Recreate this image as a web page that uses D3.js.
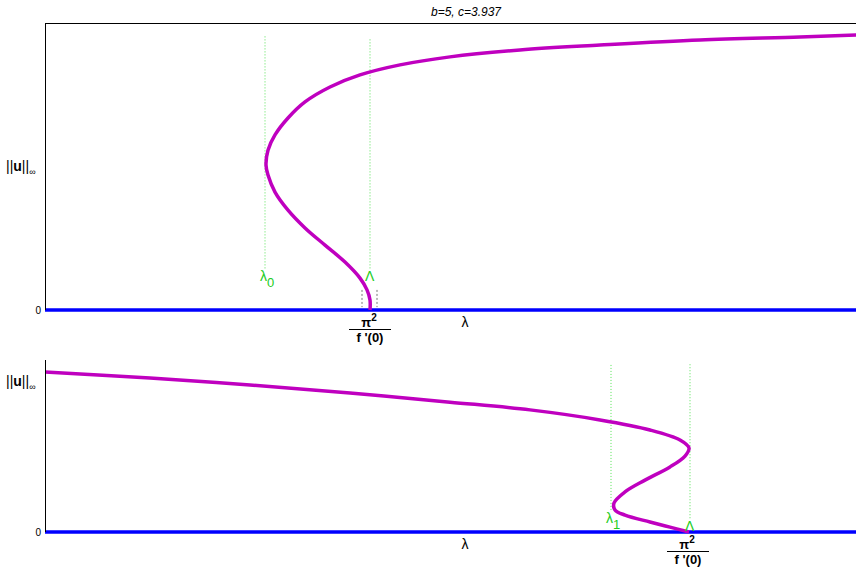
<!DOCTYPE html>
<html>
<head>
<meta charset="utf-8">
<script src="https://cdn.jsdelivr.net/npm/d3@7"></script>
<style>
body { margin: 0; background: #fff; }
text { font-family: "Liberation Sans", Arial, sans-serif; }
</style>
</head>
<body>
<svg id="chart" width="856" height="569"></svg>
<script>
// upper branch (lambda, ||u||)
var topLambda = [3.25, 3.25, 3.22, 3.15, 3.00, 2.80, 2.60, 2.43, 2.30, 2.23, 2.21, 2.23, 2.30, 2.43, 2.60, 2.85, 3.15, 3.55, 4.05, 4.75, 5.55, 6.55, 7.55, 8.11, 8.5];
var topNorm = [0, 0.35, 0.70, 1.11, 1.67, 2.26, 2.86, 3.48, 4.11, 4.70, 5.05, 5.57, 6.10, 6.69, 7.25, 7.77, 8.19, 8.54, 8.82, 9.06, 9.23, 9.41, 9.51, 9.58, 9.62];
// lower branch
var botLambda = [0, 1.05, 2.05, 3.05, 4.05, 4.85, 5.55, 6.05, 6.35, 6.44, 6.40, 6.25, 6.00, 5.80, 5.69, 5.70, 5.80, 6.05, 6.25, 6.44];
var botNorm = [5.58, 5.37, 5.13, 4.85, 4.53, 4.26, 3.91, 3.56, 3.21, 2.93, 2.65, 2.27, 1.81, 1.40, 1.01, 0.77, 0.59, 0.35, 0.17, 0];

// marker lines: lambda, top, bottom, label, subscript
var topMarks = [
  { x: 2.20, y0: 1.45, y1: 9.55, label: "λ", sub: "0" },
  { x: 3.25, y0: 1.45, y1: 9.45, label: "Λ", sub: "" }
];
var botMarks = [
  { x: 5.66, y0: 0.77, y1: 5.85, label: "λ", sub: "1" },
  { x: 6.45, y0: 0.48, y1: 5.85, label: "Λ", sub: "" }
];
var greyTicks = [3.17, 3.32];
var titleText = "b=5, c=3.937";

var svg = d3.select("#chart");
var xScale = d3.scaleLinear().domain([0, 8.4]).range([45, 885]);
var yTop = d3.scaleLinear().domain([0, 10]).range([310, 23]);
var yBot = d3.scaleLinear().domain([0, 6]).range([532, 360]);

svg.append("defs").append("clipPath").attr("id", "clipTop")
  .append("rect").attr("x", 45).attr("y", 23).attr("width", 840).attr("height", 292);
svg.select("defs").append("clipPath").attr("id", "clipBot")
  .append("rect").attr("x", 45).attr("y", 360).attr("width", 840).attr("height", 177);

function drawPanel(yScale, lam, nrm, marks, clipId, fracX) {
  var g = svg.append("g");
  var inner = g.append("g").attr("clip-path", "url(#" + clipId + ")");

  // green dotted marker lines
  inner.selectAll(".mark")
    .data(marks)
    .enter()
    .append("line")
    .attr("x1", function (d) { return xScale(d.x); })
    .attr("x2", function (d) { return xScale(d.x); })
    .attr("y1", function (d) { return yScale(d.y0); })
    .attr("y2", function (d) { return yScale(d.y1); })
    .attr("stroke", "#55e055")
    .attr("stroke-width", 1)
    .attr("stroke-dasharray", "1,2");

  // blue trivial branch
  inner.append("line")
    .attr("x1", xScale(0)).attr("x2", xScale(8.4))
    .attr("y1", yScale(0)).attr("y2", yScale(0))
    .attr("stroke", "#0000ff").attr("stroke-width", 3.5);

  var pts = lam.map(function (v, i) { return [v, nrm[i]]; });
  var line = d3.line()
    .x(function (d) { return xScale(d[0]); })
    .y(function (d) { return yScale(d[1]); })
    .curve(d3.curveCatmullRom.alpha(0.5));
  inner.append("path")
    .attr("d", line(pts))
    .attr("fill", "none")
    .attr("stroke", "#bf00bf")
    .attr("stroke-width", 3.5);

  // labels of marker lines
  var lab = g.selectAll(".marklabel")
    .data(marks)
    .enter()
    .append("text")
    .attr("x", function (d) { return xScale(d.x) - 5; })
    .attr("y", function (d) { return yScale(d.y0) + 13; })
    .attr("fill", "#22cc22")
    .attr("font-size", 14);
  lab.append("tspan").text(function (d) { return d.label; });
  lab.append("tspan").attr("dy", 6).attr("font-size", 13).text(function (d) { return d.sub; });

  // left axis
  g.append("line")
    .attr("x1", 45.5).attr("x2", 45.5)
    .attr("y1", yScale.range()[1]).attr("y2", yScale(0))
    .attr("stroke", "#000").attr("stroke-width", 1);
  g.append("text").attr("x", 41).attr("y", yScale(0) + 4)
    .attr("text-anchor", "end").attr("font-size", 10).text("0");

  // y label
  var yl = g.append("text")
    .attr("x", 6)
    .attr("y", yScale.range()[1] + (clipId === "clipTop" ? 148 : 26))
    .attr("font-size", 14);
  yl.append("tspan").text("||");
  yl.append("tspan").attr("font-weight", "bold").text("u");
  yl.append("tspan").text("||");
  yl.append("tspan").attr("dy", 4).attr("font-size", 9).text("∞");

  // lambda axis label
  g.append("text").attr("x", 465).attr("y", yScale(0) + 17)
    .attr("text-anchor", "middle").attr("font-size", 14).text("λ");

  // pi^2 / f'(0)
  var fx = xScale(fracX);
  var fy = yScale(0);
  var pt = g.append("text").attr("x", fx - 1).attr("y", fy + 16.5)
    .attr("text-anchor", "middle").attr("font-size", 13).attr("font-weight", "bold");
  pt.append("tspan").text("π");
  pt.append("tspan").attr("dy", -6).attr("font-size", 10).text("2");
  g.append("line")
    .attr("x1", fx - 21).attr("x2", fx + 21)
    .attr("y1", fy + 19.5).attr("y2", fy + 19.5)
    .attr("stroke", "#000").attr("stroke-width", 1);
  g.append("text").attr("x", fx).attr("y", fy + 32)
    .attr("text-anchor", "middle").attr("font-size", 13).attr("font-weight", "bold")
    .text("f '(0)");
  return g;
}

var gTop = drawPanel(yTop, topLambda, topNorm, topMarks, "clipTop", 3.25);
var gBot = drawPanel(yBot, botLambda, botNorm, botMarks, "clipBot", 6.43);

// top border of the upper panel
gTop.append("line")
  .attr("x1", 45).attr("x2", 885)
  .attr("y1", 23.5).attr("y2", 23.5)
  .attr("stroke", "#000").attr("stroke-width", 1);

// grey dotted ticks near the fold at zero
gTop.selectAll(".grey")
  .data(greyTicks)
  .enter()
  .append("line")
  .attr("x1", function (d) { return xScale(d); })
  .attr("x2", function (d) { return xScale(d); })
  .attr("y1", yTop(0.7)).attr("y2", yTop(0.1))
  .attr("stroke", "#777").attr("stroke-width", 1)
  .attr("stroke-dasharray", "2,2");

svg.append("text")
  .attr("x", 466).attr("y", 16)
  .attr("text-anchor", "middle")
  .attr("font-size", 12)
  .attr("font-style", "italic")
  .text(titleText);
</script>
</body>
</html>
